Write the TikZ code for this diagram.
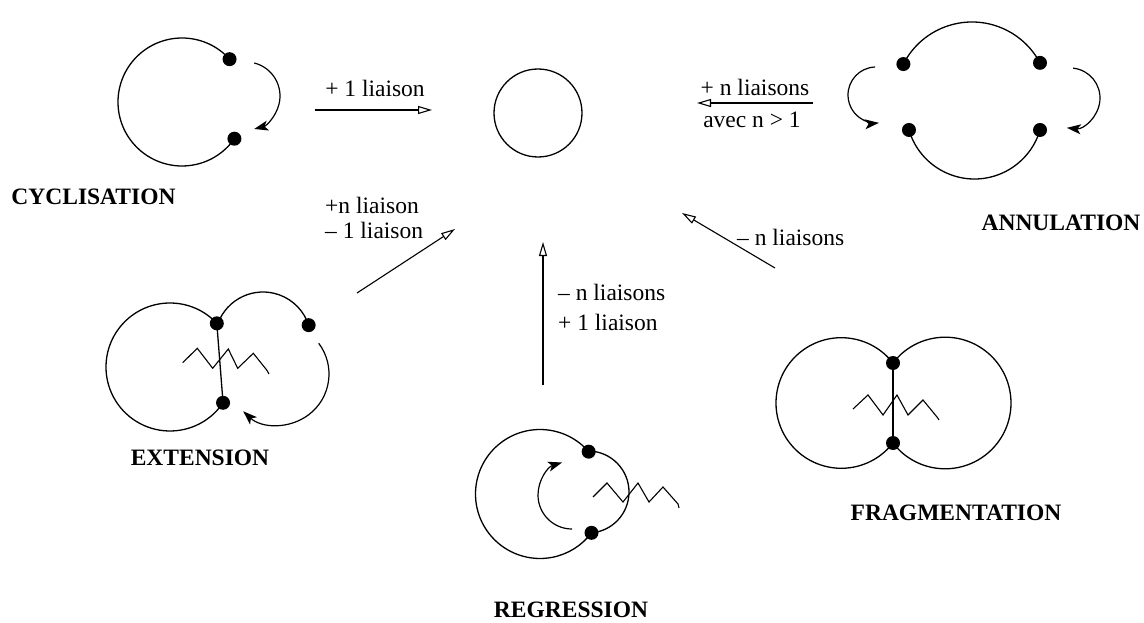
\documentclass[tikz,border=0pt]{standalone}
\usepackage{fontspec}
\setmainfont{Liberation Serif}
\usetikzlibrary{arrows.meta,calc}
\begin{document}
\begin{tikzpicture}[x=1pt,y=1pt,
  ln/.style={line width=1.3pt},
  bead/.style={circle, fill=black, inner sep=0pt, minimum size=14pt},
  curvarrow/.style={line width=1.2pt, -{Stealth[length=14pt,width=10pt,inset=3.5pt]}},
  reaction/.style={line width=1.1pt, -{Triangle[open,length=14pt,width=8pt,line width=1.1pt]}},
  lbl/.style={font=\fontsize{23.5}{28}\selectfont, inner sep=0pt},
  stagename/.style={font=\bfseries\fontsize{23.5}{28}\selectfont, inner sep=0pt}]
\useasboundingbox (0,0) rectangle (1144,-623);

% ---------- centre ring
\coordinate (C0) at (538,-113);
\draw[ln] (C0) circle[radius=44pt];

% ---------- CYCLISATION
\coordinate (C1) at (182,-102);
\draw[ln] (C1) ++(42:64pt) arc[start angle=42, end angle=325, radius=64pt];
\node[bead] (c1a) at ($(C1)+(42:64pt)$) {};
\node[bead] (c1b) at ($(C1)+(325:64pt)$) {};
\coordinate (C1r) at (246,-96);
\draw[curvarrow] (C1r) ++(76:34pt) arc[start angle=76, end angle=-76, radius=34pt];
\node[stagename] (tcyc) at (93.5,-197) {CYCLISATION};

% ---------- ANNULATION
\coordinate (A1) at (972,-99);
\coordinate (A2) at (974.5,-110.7);
\draw[ln] (A1) ++(153:77pt) arc[start angle=153, end angle=28, radius=77pt];
\draw[ln] (A2) ++(196.4:68.3pt) arc[start angle=196.4, end angle=343.6, radius=68.3pt];
\node[bead] (a1) at ($(A1)+(153:77pt)$) {};
\node[bead] (a2) at ($(A1)+(28:77pt)$) {};
\node[bead] (a3) at ($(A2)+(196.4:68.3pt)$) {};
\node[bead] (a4) at ($(A2)+(343.6:68.3pt)$) {};
\coordinate (A3) at (876,-95);
\draw[curvarrow] (A3) ++(92:28pt) arc[start angle=92, end angle=276, radius=28pt];
\coordinate (A4) at (1070,-98);
\draw[curvarrow] (A4) ++(84:30pt) arc[start angle=84, end angle=-96, radius=30pt];
\node[stagename] (tann) at (1061,-223) {ANNULATION};

% ---------- EXTENSION
\coordinate (E1) at (170,-367);
\draw[ln] (E1) ++(43:64pt) arc[start angle=43, end angle=326, radius=64pt];
\coordinate (E2) at (263,-340);
\draw[ln] (E2) ++(160:48pt) arc[start angle=160, end angle=18, radius=48pt];
\coordinate (E3) at (278,-374);
\draw[curvarrow] (E3) ++(37:51pt) arc[start angle=37, end angle=-133, radius=51pt];
\node[bead] (e1) at ($(E1)+(43:64pt)$) {};
\node[bead] (e2) at ($(E1)+(326:64pt)$) {};
\node[bead] (e3) at ($(E2)+(18:48pt)$) {};
\draw[ln] (e1.center) -- (e2.center);
\draw[line width=1.1pt] (182.7,-362.7) -- (197.3,-348.3) -- (212.7,-368.3) -- (228.3,-349)
  -- (237.7,-368.3) -- (253.3,-353.3) -- (266.7,-370) -- (269,-374);
\node[stagename] (text) at (200,-458) {EXTENSION};

% ---------- REGRESSION
\coordinate (R1) at (540,-494);
\draw[ln] (R1) ++(41:64.5pt) arc[start angle=41, end angle=323, radius=64.5pt];
\coordinate (R2) at (588,-492);
\draw[ln] (R2) ++(89:41pt) arc[start angle=89, end angle=-85, radius=41pt];
\node[bead] (r1) at ($(R1)+(41:64.5pt)$) {};
\node[bead] (r2) at ($(R1)+(323:64.5pt)$) {};
\coordinate (R3) at (572,-495);
\draw[curvarrow] (R3) ++(270:34pt) arc[start angle=270, end angle=107, radius=34pt];
\draw[line width=1.1pt] (593,-497) -- (607,-483) -- (623,-502) -- (638,-483)
  -- (649,-502) -- (663,-487) -- (678,-504) -- (679,-508);
\node[stagename] (treg) at (571,-610) {REGRESSION};

% ---------- FRAGMENTATION
\coordinate (F1) at (841.3,-403);
\coordinate (F2) at (945.2,-403);
\draw[ln] (F1) ++(37.7:65.3pt) arc[start angle=37.7, end angle=322.3, radius=65.3pt];
\draw[ln] (F2) ++(142.5:65.8pt) arc[start angle=142.5, end angle=-142.5, radius=65.8pt];
\node[bead] (f1) at (893,-363) {};
\node[bead] (f2) at (893,-443) {};
\draw[ln] (f1.center) -- (f2.center);
\draw[line width=1.1pt] (853,-409) -- (868,-395) -- (883,-415) -- (897,-395)
  -- (908,-415) -- (923,-400) -- (937,-417) -- (939,-420);
\node[stagename] (tfrag) at (956,-513) {FRAGMENTATION};

% ---------- reaction arrows
\coordinate (p1s) at (315,-110); \coordinate (p1e) at (432,-110);
\draw[reaction] (p1s) -- (p1e);
\node[lbl] (l1) at (375,-88) {+ 1 liaison};

\coordinate (p2s) at (813,-103); \coordinate (p2e) at (697,-103);
\draw[reaction] (p2s) -- (p2e);
\node[lbl] (l2a) at (755,-87) {+ n liaisons};
\node[lbl] (l2b) at (752,-120) {avec n > 1};

\coordinate (p3s) at (357,-293); \coordinate (p3e) at (455,-229);
\draw[reaction] (p3s) -- (p3e);
\node[lbl, anchor=west] (l3a) at (325,-205) {+n liaison};
\node[lbl, anchor=west] (l3b) at (325,-230) {– 1 liaison};

\coordinate (p4s) at (543,-385); \coordinate (p4e) at (543,-242);
\draw[reaction] (p4s) -- (p4e);
\node[lbl, anchor=west] (l4a) at (558,-292) {– n liaisons};
\node[lbl, anchor=west] (l4b) at (558,-322) {+ 1 liaison};

\coordinate (p5s) at (775,-268); \coordinate (p5e) at (682,-213);
\draw[reaction] (p5s) -- (p5e);
\node[lbl, anchor=west] (l5) at (737,-237) {– n liaisons};
\end{tikzpicture}
\end{document}
